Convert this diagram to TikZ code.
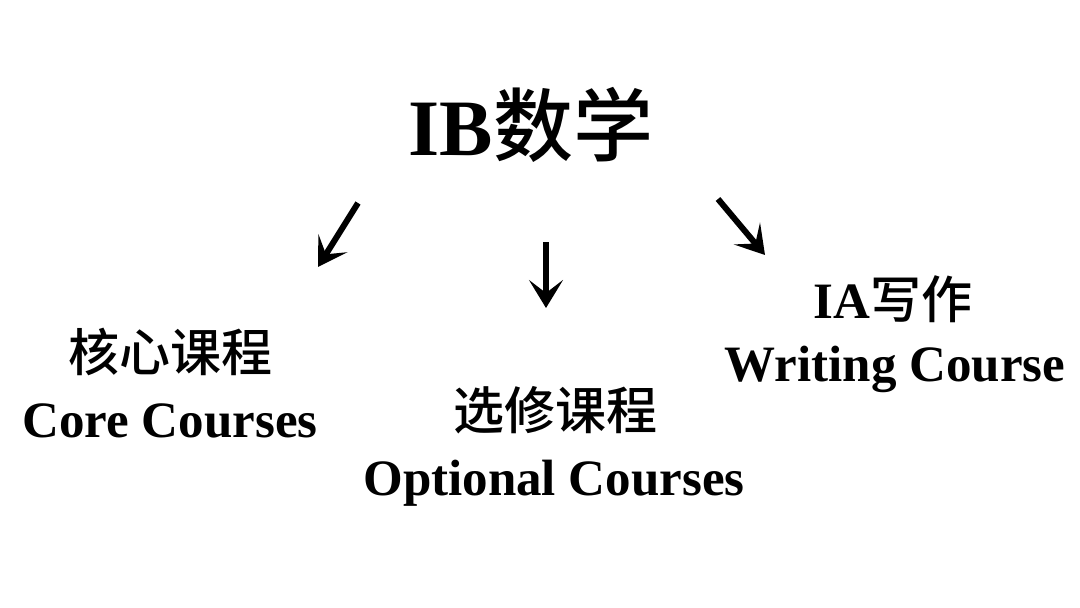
\documentclass[tikz,border=0pt]{standalone}
\usepackage{fontspec}
\setmainfont{Liberation Serif}
\newfontfamily\cjk{Noto Sans CJK SC}[BoldFont={Noto Sans CJK SC Medium}]
\usetikzlibrary{arrows.meta}
\begin{document}
\begin{tikzpicture}[x=1pt,y=-1pt,
  lbl/.style={anchor=base,inner sep=0pt,font=\fontsize{51}{60}\selectfont\bfseries},
  big/.style={anchor=base,inner sep=0pt,font=\fontsize{80}{96}\selectfont\bfseries},
  arr/.style={line width=6pt,-{Stealth[length=28pt,width=34pt,inset=13pt]}}]
\useasboundingbox[fill=white] (0,0) rectangle (1080,608);
\node[big] (title) at (531,155) {IB{\cjk 数学}};
\node[lbl] (corecn) at (170,371) {\cjk 核心课程};
\node[lbl] (coreen) at (170,437) {Core Courses};
\node[lbl] (optcn) at (555,429) {\cjk 选修课程};
\node[lbl] (opten) at (554,495) {Optional Courses};
\node[lbl] (iacn) at (893,318) {IA{\cjk 写作}};
\node[lbl] (iaen) at (895,381) {Writing Course};
\coordinate (a1s) at (358,203);
\coordinate (a1e) at (318,267);
\coordinate (a2s) at (546,242);
\coordinate (a2e) at (546,308);
\coordinate (a3s) at (718,199);
\coordinate (a3e) at (765,255);
\draw[arr] (a1s) -- (a1e);
\draw[arr] (a2s) -- (a2e);
\draw[arr] (a3s) -- (a3e);
\end{tikzpicture}
\end{document}
